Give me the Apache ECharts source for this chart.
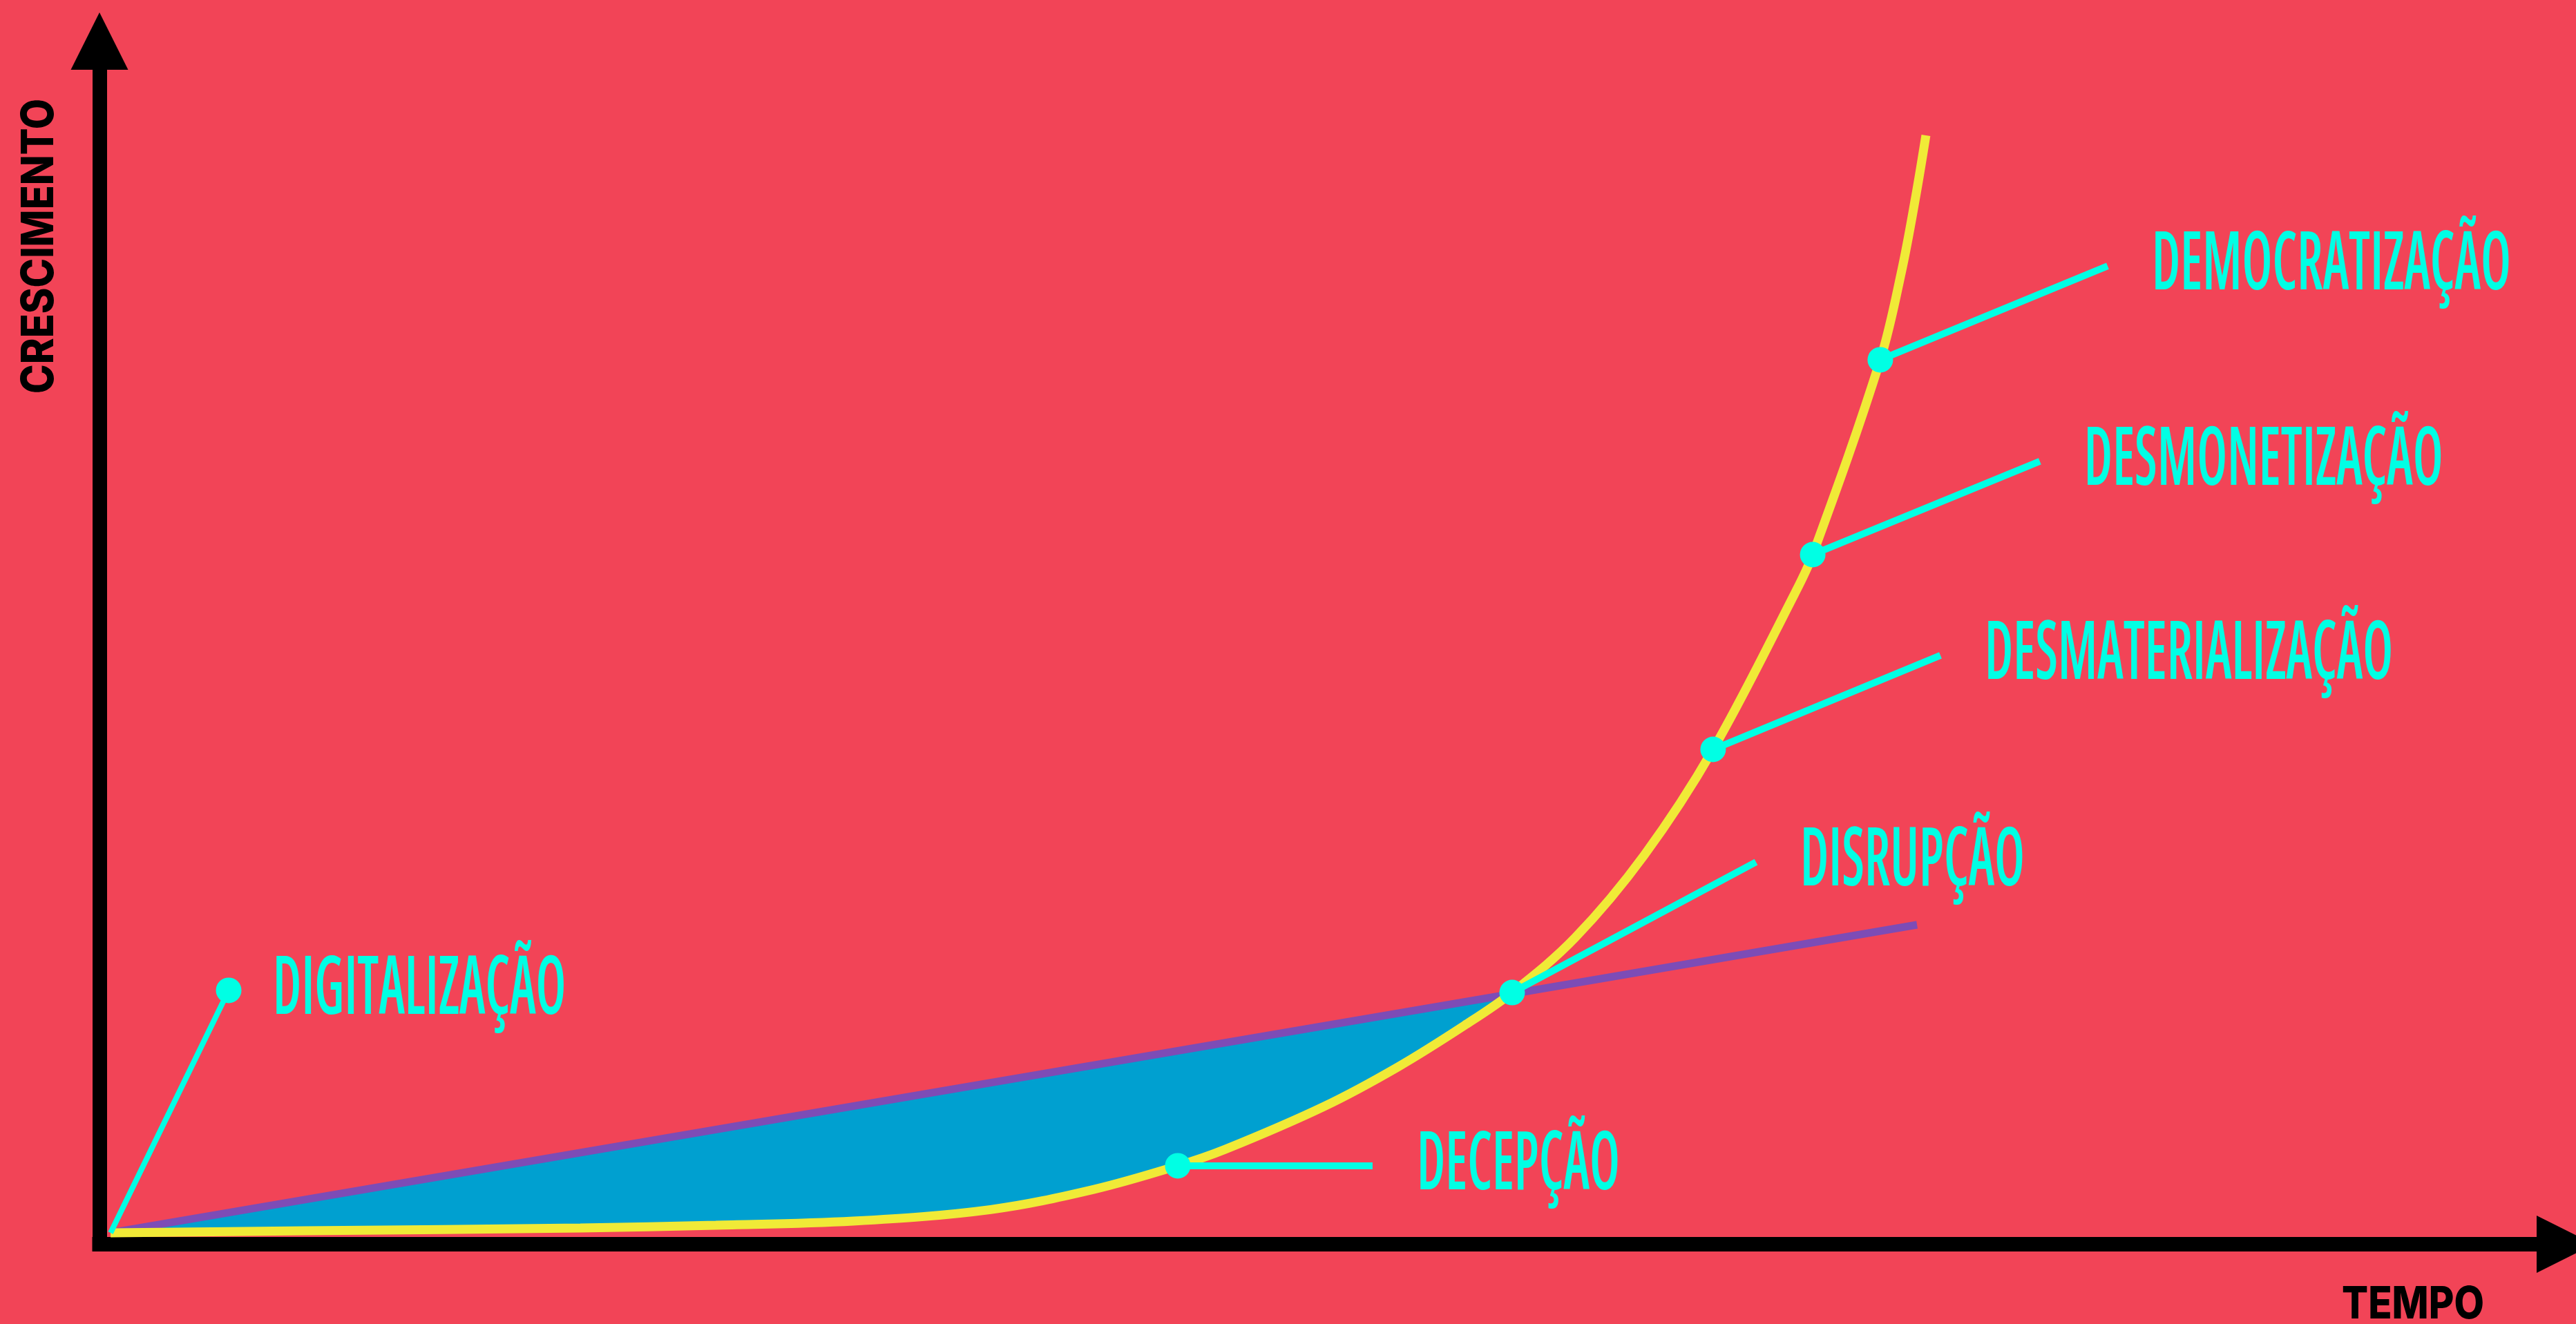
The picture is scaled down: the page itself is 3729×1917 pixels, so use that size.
<!DOCTYPE html>
<html>
<head>
<meta charset="utf-8">
<script src="https://cdn.jsdelivr.net/npm/echarts@6/dist/echarts.min.js"></script>
<style>
  html, body { margin: 0; padding: 0; background: #F24457; overflow: hidden; }
  #chart { width: 3729px; height: 1917px; }
</style>
</head>
<body>
<div id="chart"></div>
<script>
// ---------- DATA (abstract units: x = tempo 0..100, y = crescimento 0..100) ----------
const curveX = [0.45, 8.29, 19.5, 24.99, 30.56, 36.14, 40.31, 43.73, 45.66, 49.67, 52.67, 55.36, 57.29, 59.84, 62.64, 65.44, 68.75, 69.48, 72.22, 73.09, 73.65, 74.07];
const curveY = [0.95, 1.12, 1.35, 1.58, 1.92, 2.88, 4.55, 6.52, 7.89, 11.46, 14.75, 18.19, 20.92, 25.47, 32.32, 41.13, 54.08, 57.32, 73.51, 80.94, 87.0, 92.16];
const crossIndex = 12;               // curve point where exponential meets linear expectation

const trendX = [0.45, 73.71];        // linear expectation line
const trendY = [0.95, 26.55];

const milestoneNames = ['DIGITALIZAÇÃO', 'DECEPÇÃO', 'DISRUPÇÃO', 'DESMATERIALIZAÇÃO', 'DESMONETIZAÇÃO', 'DEMOCRATIZAÇÃO'];
const dotX = [5.24, 43.73, 57.29, 65.44, 69.48, 72.22];
const dotY = [21.1, 6.52, 20.92, 41.13, 57.32, 73.51];
const leaderFromX = [0.45, 43.73, 57.29, 65.44, 69.48, 72.22];
const leaderFromY = [0.95, 6.52, 20.92, 41.13, 57.32, 73.51];
const leaderToX = [5.24, 51.63, 67.18, 74.66, 78.69, 81.44];
const leaderToY = [21.1, 6.52, 31.77, 48.94, 65.07, 81.31];

const xTitle = 'TEMPO';
const yTitle = 'CRESCIMENTO';

// ---------- STYLE ----------
const BG = '#F24457';
const YELLOW = '#F0EA37';
const PURPLE = '#7D4CB6';
const BLUE = '#00A0D0';
const CYAN = '#00FFE4';
const LABEL_FONT = 'condensed 600 118px "Open Sans", "Noto Sans", "DejaVu Sans Condensed", sans-serif';
const LABEL_REF_TEXT = 'DEMOCRATIZAÇÃO';
const LABEL_REF_WIDTH = 520;
const LABEL_GAP = 64;
const TITLE_FONT = '800 65px Inter, "Open Sans", sans-serif';

const mctx = document.createElement('canvas').getContext('2d');
function textWidth(font, txt) { mctx.font = font; return mctx.measureText(txt).width; }
const labelScale = LABEL_REF_WIDTH / textWidth(LABEL_FONT, LABEL_REF_TEXT);
const yTitleScale = 427 / textWidth(TITLE_FONT, yTitle);
const xTitleScale = 206 / textWidth(TITLE_FONT, xTitle);

// ---------- BUILD ----------
const curveData = curveX.map((x, i) => [x, curveY[i]]);
const gapData = curveData.slice(0, crossIndex + 1);
const trendData = trendX.map((x, i) => [x, trendY[i]]);
const dotData = dotX.map((x, i) => [x, dotY[i]]);
const leaderData = milestoneNames.map((n, i) => ({
  coords: [[leaderFromX[i], leaderFromY[i]], [leaderToX[i], leaderToY[i]]],
  lineStyle: { width: i === 0 ? 8 : 10 }
}));
const labelData = milestoneNames.map((n, i) => [leaderToX[i], leaderToY[i], n]);

const axisCommon = {
  type: 'value', min: 0, max: 100,
  axisLine: { show: true, onZero: false, symbol: ['none', 'triangle'], symbolSize: [83, 83],
              lineStyle: { color: '#000', width: 21, cap: 'square' } },
  axisTick: { show: false }, axisLabel: { show: false }, splitLine: { show: false }
};

const chart = echarts.init(document.getElementById('chart'), null, { renderer: 'canvas' });
chart.setOption({
  animation: false,
  backgroundColor: BG,
  grid: { left: 144, right: 15.5, top: 59.5, bottom: 115.5, containLabel: false },
  xAxis: axisCommon,
  yAxis: axisCommon,
  graphic: [
    { type: 'text', x: 57.5, y: 356.5, rotation: Math.PI / 2, scaleX: yTitleScale,
      style: { text: yTitle, font: TITLE_FONT, fill: '#000', align: 'center', verticalAlign: 'middle' } },
    { type: 'text', x: 3493, y: 1889, scaleX: xTitleScale,
      style: { text: xTitle, font: TITLE_FONT, fill: '#000', align: 'center', verticalAlign: 'middle' } }
  ],
  series: [
    {
      type: 'custom', name: 'gap', z: 1, silent: true,
      data: [[0]],
      renderItem: (params, api) => ({
        type: 'polygon',
        shape: { points: gapData.map(p => api.coord(p)) },
        style: { fill: BLUE }
      })
    },
    {
      type: 'line', name: 'linear', z: 2, data: trendData, symbol: 'none', silent: true,
      lineStyle: { color: PURPLE, width: 11 }
    },
    {
      type: 'line', name: 'exponencial', z: 3, data: curveData, symbol: 'none', silent: true,
      smooth: 0.35,
      lineStyle: { color: YELLOW, width: 13 }
    },
    {
      type: 'lines', name: 'leaders', coordinateSystem: 'cartesian2d', z: 4, silent: true,
      data: leaderData, lineStyle: { color: CYAN, width: 10, opacity: 1 }
    },
    {
      type: 'scatter', name: 'marcos', z: 5, data: dotData, symbol: 'circle', symbolSize: 37, silent: true,
      itemStyle: { color: CYAN, opacity: 1 }
    },
    {
      type: 'custom', name: 'labels', z: 6, silent: true, data: labelData,
      renderItem: (params, api) => {
        const p = api.coord([api.value(0), api.value(1)]);
        return {
          type: 'text', x: p[0] + LABEL_GAP, y: p[1], scaleX: labelScale,
          style: { text: milestoneNames[params.dataIndex], font: LABEL_FONT, fill: CYAN,
                   align: 'left', verticalAlign: 'middle' }
        };
      }
    }
  ]
});
</script>
</body>
</html>
